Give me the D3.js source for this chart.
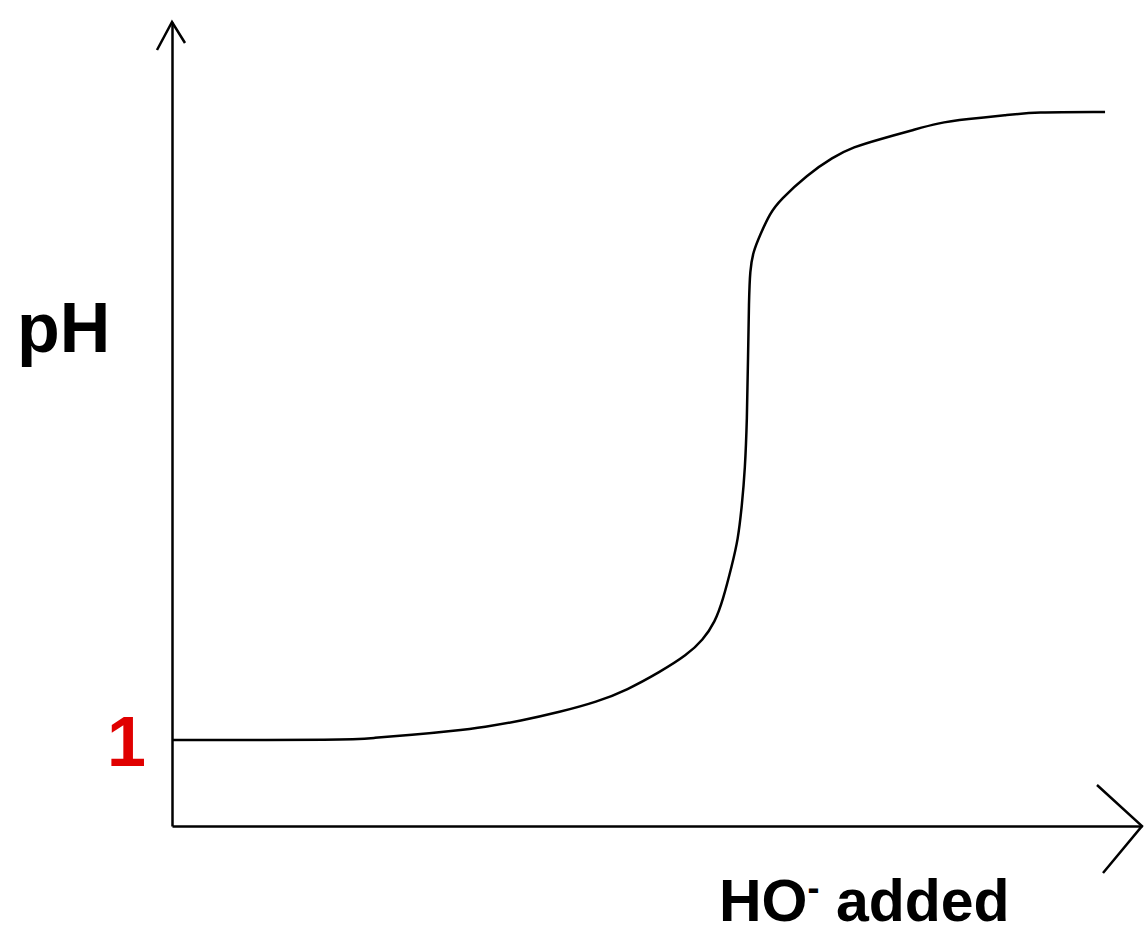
<!DOCTYPE html>
<html>
<head>
<meta charset="utf-8">
<script src="https://cdnjs.cloudflare.com/ajax/libs/d3/7.8.5/d3.min.js"></script>
<style>
  body { margin: 0; background: #fff; }
  svg { display: block; }
  .lbl { font-family: "Liberation Sans", Arial, sans-serif; font-weight: bold; }
</style>
</head>
<body>
<div id="chart"></div>
<script>
// titration curve (x = base added, arbitrary units; y = pH)
var added = [0, 18.35, 20.62, 24.74, 28.87, 32.27, 35.88, 40.0, 43.81, 46.91, 50.31, 53.09,
             54.74, 55.98, 56.80, 57.73, 58.35, 58.76, 59.07, 59.28, 59.38, 59.48, 59.59,
             59.90, 60.62, 61.65, 62.68, 65.46, 68.14, 70.21, 72.99, 76.39, 78.87, 81.96,
             86.08, 88.76, 96.19];
var pH    = [1.0, 1.0, 1.023, 1.058, 1.105, 1.151, 1.221, 1.326, 1.442, 1.581, 1.791, 1.988,
             2.163, 2.372, 2.628, 3.035, 3.326, 3.733, 4.140, 4.721, 5.419, 6.116, 6.465,
             6.674, 6.872, 7.128, 7.279, 7.570, 7.779, 7.895, 7.988, 8.093, 8.174, 8.221,
             8.267, 8.302, 8.302];
var yTicks = [1];

var width = 1145, height = 933;
var x0 = 172, x1 = 1142, y0 = 826, y1 = 22;

var svg = d3.select("#chart").append("svg")
    .attr("width", width)
    .attr("height", height);

// scales
var x = d3.scaleLinear().domain([0, 100]).range([x0, x1]);
var y = d3.scaleLinear().domain([0, 9.35]).range([y0, y1]);

var data = added.map(function(d, i) { return {x: d, y: pH[i]}; });

// axes: plain lines, only the "1" label
var yAxis = svg.append("g")
    .attr("transform", "translate(" + x0 + ",0)")
    .call(d3.axisLeft(y).tickValues(yTicks).tickSize(0).tickPadding(26));
var xAxis = svg.append("g")
    .attr("transform", "translate(0," + y0 + ")")
    .call(d3.axisBottom(x).tickValues([]).tickSize(0));

svg.selectAll(".domain")
    .attr("stroke", "#000")
    .attr("stroke-width", 2.5);

yAxis.selectAll(".tick text")
    .attr("class", "lbl")
    .attr("fill", "#e00000")
    .style("font-size", "70px")
    .attr("dy", "0.36em");

// open arrowheads
svg.append("path")
    .attr("d", "M157,50L" + x0 + "," + y1 + "L185,43")
    .attr("fill", "none").attr("stroke", "#000").attr("stroke-width", 2.5);
svg.append("path")
    .attr("d", "M1097,785L" + x1 + "," + y0 + "L1103,873")
    .attr("fill", "none").attr("stroke", "#000").attr("stroke-width", 2.5);

// the curve
var line = d3.line()
    .x(function(d) { return x(d.x); })
    .y(function(d) { return y(d.y); })
    .curve(d3.curveBasis);

svg.append("path")
    .datum(data)
    .attr("d", line)
    .attr("fill", "none")
    .attr("stroke", "#000")
    .attr("stroke-width", 2.5);

// axis titles
svg.append("text")
    .attr("class", "lbl")
    .attr("x", 17)
    .attr("y", 352)
    .style("font-size", "70px")
    .text("pH");

var xt = svg.append("text")
    .attr("class", "lbl")
    .attr("x", 719)
    .attr("y", 921)
    .style("font-size", "59px");
xt.append("tspan").text("HO");
xt.append("tspan").attr("dy", -21).style("font-size", "36px").text("-");
xt.append("tspan").attr("dy", 21).text(" added");
</script>
</body>
</html>
